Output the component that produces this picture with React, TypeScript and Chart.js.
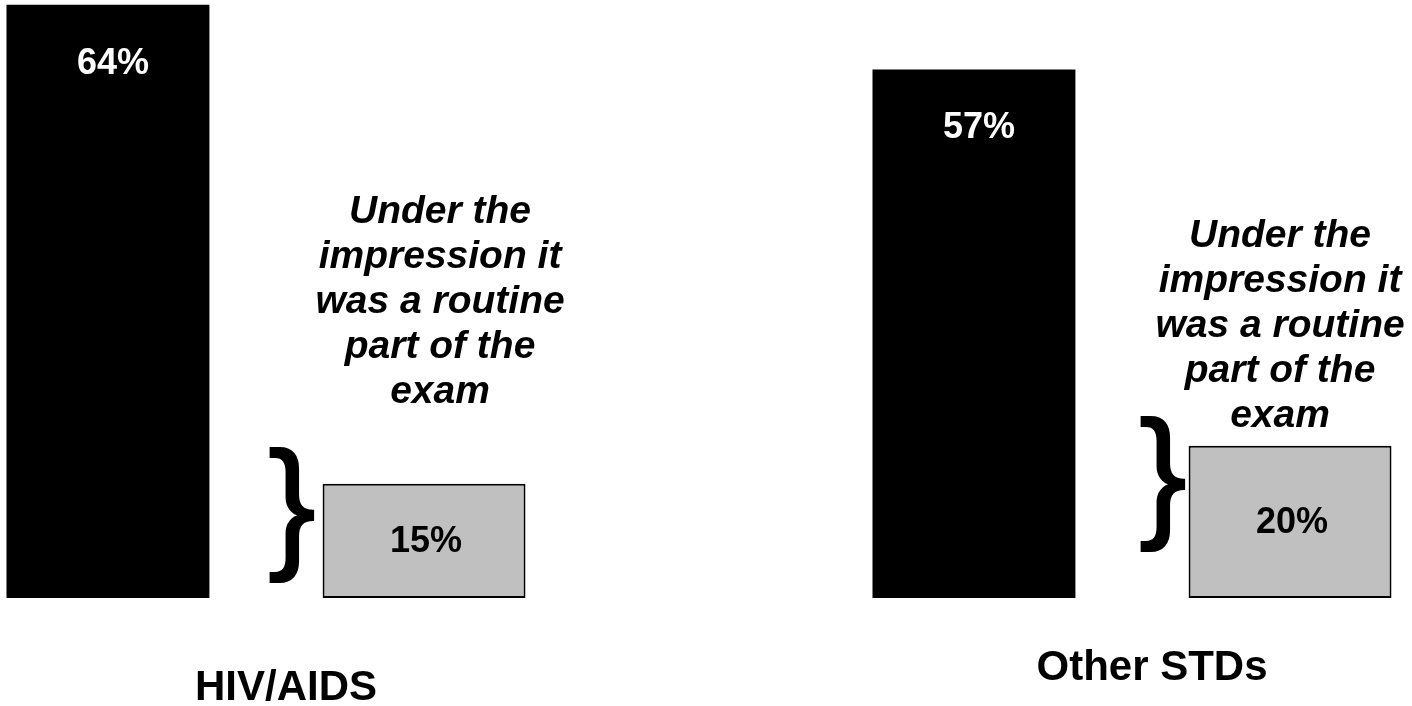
import React, { useEffect, useRef } from "react";
import { Chart, registerables } from "chart.js";

Chart.register(...registerables);

// ---- data ----
const categories = ["HIV/AIDS", "Other STDs"];
const testedValues = [64, 57]; // black bars (%)
const routineValues = [15, 20]; // grey bars (%)
const annotationLines = ["Under the", "impression it", "was a routine", "part of the", "exam"];

// ---- style / layout ----
const FONT = '"Liberation Sans", Arial, Helvetica, sans-serif';
const labelLineDrop = [1, 0]; // category label vertical drop (in lines)
const annotationDx = [16, -10];
const annotationFirstBaseline = [223, 247];
const annotationLineStep = 45;
const braceCenterX = [268, 1139];
const braceCenterY = [515, 484];

const overlayPlugin = {
  id: "overlay",
  afterDatasetsDraw(chart: any) {
    const ctx: CanvasRenderingContext2D = chart.ctx;
    const blackMeta = chart.getDatasetMeta(0);
    const greyMeta = chart.getDatasetMeta(1);
    ctx.save();
    ctx.textAlign = "center";
    ctx.textBaseline = "middle";
    ctx.font = `bold 36px ${FONT}`;
    blackMeta.data.forEach((bar: any, i: number) => {
      ctx.fillStyle = "#ffffff";
      ctx.fillText(`${testedValues[i]}%`, bar.x + 5, bar.y + 59);
    });
    greyMeta.data.forEach((bar: any, i: number) => {
      ctx.fillStyle = "#000000";
      ctx.fillText(`${routineValues[i]}%`, bar.x + 2, (bar.y + bar.base) / 2 + 1);
    });

    // annotations
    ctx.font = `italic bold 39px ${FONT}`;
    ctx.textBaseline = "alphabetic";
    ctx.fillStyle = "#000000";
    greyMeta.data.forEach((bar: any, i: number) => {
      annotationLines.forEach((line, j) => {
        ctx.fillText(line, bar.x + annotationDx[i], annotationFirstBaseline[i] + j * annotationLineStep);
      });
    });

    // braces
    ctx.font = `142px ${FONT}`;
    const m = ctx.measureText("}");
    const asc = m.actualBoundingBoxAscent;
    const desc = m.actualBoundingBoxDescent;
    const left = m.actualBoundingBoxLeft;
    const right = m.actualBoundingBoxRight;
    ctx.textAlign = "left";
    ctx.strokeStyle = "#000000";
    ctx.lineWidth = 2;
    greyMeta.data.forEach((_bar: any, i: number) => {
      const x = braceCenterX[i] - (right - left) / 2;
      const y = braceCenterY[i] + (asc - desc) / 2;
      ctx.fillText("}", x, y);
      ctx.strokeText("}", x, y);
    });
    ctx.restore();
  },
};

export default function App() {
  const canvasRef = useRef<HTMLCanvasElement | null>(null);

  useEffect(() => {
    if (!canvasRef.current) return;
    const chart = new Chart(canvasRef.current, {
      type: "bar",
      data: {
        labels: categories,
        datasets: [
          {
            label: "Tested",
            data: testedValues,
            backgroundColor: "#000000",
            borderWidth: 0,
            yAxisID: "y",
            clip: false as any,
          },
          {
            label: "Under the impression it was a routine part of the exam",
            data: routineValues,
            backgroundColor: "#c0c0c0",
            borderColor: "#000000",
            borderWidth: 2,
            borderSkipped: false,
            yAxisID: "y1",
            clip: false as any,
          },
        ],
      },
      options: {
        responsive: false,
        animation: false,
        devicePixelRatio: 1,
        events: [],
        barPercentage: 0.642,
        categoryPercentage: 0.73,
        layout: { padding: { left: 266, right: 280, top: 0, bottom: 0 } },
        plugins: {
          legend: { display: false },
          tooltip: { enabled: false },
          title: { display: false },
        },
        scales: {
          x: {
            type: "category",
            offset: false,
            grid: { display: false, drawTicks: false },
            border: { display: false },
            afterFit: (scale: any) => {
              scale.height = 108;
            },
            ticks: {
              color: "#000000",
              padding: 60,
              labelOffset: 20,
              maxRotation: 0,
              autoSkip: false,
              font: { family: FONT, size: 42, weight: "bold", lineHeight: "20px" },
              callback: function (_v: any, index: number) {
                const lbl = categories[index];
                const drop = labelLineDrop[index];
                return drop > 0 ? [...Array(drop).fill(""), lbl] : lbl;
              },
            },
          },
          y: { display: false, min: 0, max: 64.5 },
          y1: { display: false, min: 0, max: 78.5, position: "left" },
        },
      } as any,
      plugins: [overlayPlugin],
    });
    return () => chart.destroy();
  }, []);

  return (
    <div style={{ position: "absolute", left: 0, top: 0, width: 1412, height: 706, background: "#ffffff" }}>
      <canvas ref={canvasRef} width={1412} height={706} style={{ display: "block" }} />
    </div>
  );
}
